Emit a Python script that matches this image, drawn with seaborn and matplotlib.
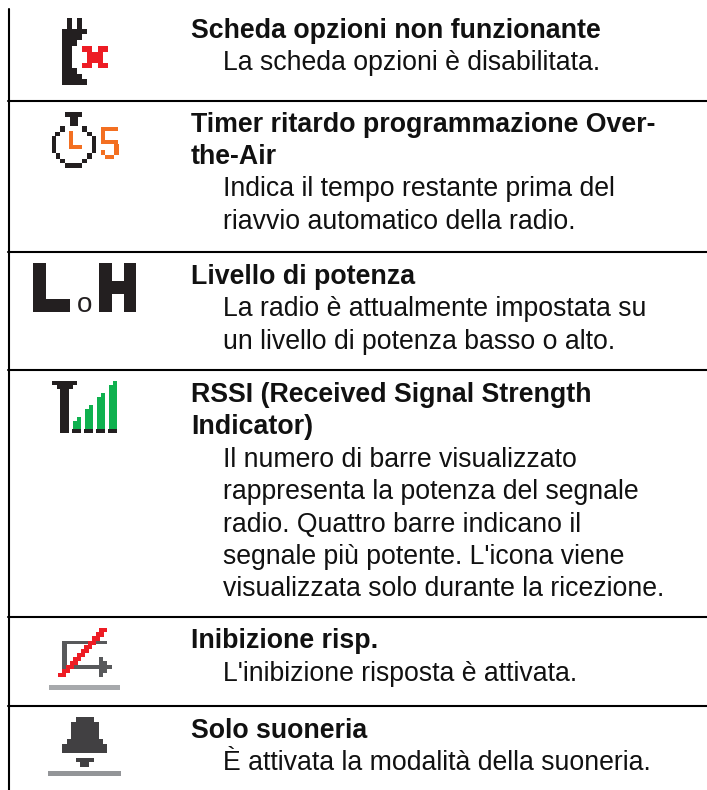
import seaborn as sns
import matplotlib.pyplot as plt
from matplotlib.patches import Rectangle

sns.set_theme(style="white")
plt.rcParams['font.family'] = ['Liberation Sans', 'DejaVu Sans']

# table text, one list per row: (title lines, description lines)
titles = [
    ["Scheda opzioni non funzionante"],
    ["Timer ritardo programmazione Over-", "the-Air"],
    ["Livello di potenza"],
    ["RSSI (Received Signal Strength", "Indicator)"],
    ["Inibizione risp."],
    ["Solo suoneria"],
]
descriptions = [
    ["La scheda opzioni è disabilitata."],
    ["Indica il tempo restante prima del", "riavvio automatico della radio."],
    ["La radio è attualmente impostata su", "un livello di potenza basso o alto."],
    ["Il numero di barre visualizzato", "rappresenta la potenza del segnale",
     "radio. Quattro barre indicano il", "segnale più potente. L'icona viene",
     "visualizzata solo durante la ricezione."],
    ["L'inibizione risposta è attivata."],
    ["È attivata la modalità della suoneria."],
]
row_baseline = [38, 131.7, 284, 402, 648.3, 737.7]
rule_y = [101, 252, 370, 617, 706]

fig = plt.figure(figsize=(7.07, 7.90), dpi=100)
ax = fig.add_axes([0, 0, 1, 1])
ax.set_xlim(0, 707)
ax.set_ylim(790, 0)
ax.axis("off")

# table rules
sns.lineplot(x=[9, 9], y=[9, 790], color="black", lw=1.5, ax=ax, errorbar=None, estimator=None)
for y in rule_y:
    sns.lineplot(x=[8, 707], y=[y, y], color="black", lw=1.5, ax=ax, errorbar=None, estimator=None)

# text
for top, t, d in zip(row_baseline, titles, descriptions):
    y = top
    for line in t:
        ax.text(191, y, line, fontsize=19.3, fontweight="bold", color="#111111", va="baseline")
        y += 32.4
    for line in d:
        ax.text(223, y, line, fontsize=19.15, color="#111111", va="baseline")
        y += 32.4


def blocks(rects, color, oy=0):
    # rects are x0, x1, y0, y1 measured on a 3x zoom of the page
    for x0, x1, y0, y1 in rects:
        ax.add_patch(Rectangle((x0 / 3, oy + y0 / 3), (x1 - x0) / 3, (y1 - y0) / 3,
                               fc=color, ec="none"))


DARK = "#231f20"
RED = "#ed1c24"
ORANGE = "#f36f21"
GREEN = "#0fb14f"

# option board icon
blocks([(200, 215, 55, 90), (230, 247, 55, 90), (185, 262, 88, 103), (185, 247, 103, 120),
        (185, 230, 120, 137), (185, 215, 137, 205), (185, 230, 205, 222), (185, 247, 222, 238),
        (185, 262, 238, 255)], DARK)
blocks([(246, 277, 138, 155), (293, 323, 138, 155), (262, 308, 155, 188),
        (246, 277, 188, 205), (293, 323, 188, 205)], RED)

# timer icon
blocks([(195, 247, 337, 350), (210, 233, 350, 378), (180, 195, 378, 395), (165, 180, 395, 408),
        (155, 168, 408, 460), (168, 180, 460, 478), (180, 195, 478, 490), (195, 247, 490, 503),
        (247, 262, 478, 490), (262, 275, 460, 478), (275, 287, 408, 460), (262, 275, 395, 408),
        (247, 262, 378, 395)], DARK)
blocks([(207, 220, 393, 447), (207, 247, 435, 447), (302, 355, 380, 393), (302, 315, 393, 420),
        (302, 355, 420, 432), (343, 357, 432, 465), (315, 343, 465, 477), (302, 315, 450, 465)], ORANGE)

# power level icon
blocks([(99, 137, 219, 366), (99, 210, 327, 366), (297, 335, 219, 366),
        (372, 409, 219, 366), (335, 372, 273, 311)], DARK, oy=190)
ax.text(84.5, 312, "o", fontsize=20, color=DARK, ha="center", va="baseline")

# rssi icon
blocks([(157, 230, 574, 586), (172, 218, 586, 598), (181, 206, 598, 730), (216, 243, 718, 728),
        (252, 279, 718, 728), (288, 315, 718, 728), (324, 351, 718, 728)], DARK, oy=190)
blocks([(218, 242, 692, 718), (230, 242, 682, 692), (254, 278, 658, 718), (266, 278, 646, 658),
        (290, 314, 622, 718), (302, 314, 610, 622), (326, 350, 586, 718), (338, 350, 574, 586)],
       GREEN, oy=190)

# inhibit reply icon
blocks([(186, 322, 122, 133), (186, 200, 122, 207), (200, 310, 196, 207), (298, 310, 172, 232),
        (310, 322, 184, 220), (322, 335, 196, 207)], "#58595b", oy=600)
for i in range(12):
    blocks([(175 + i * 11.2, 199 + i * 11.2, 219.7 - i * 12.25, 232 - i * 12.25)], RED, oy=600)
blocks([(147, 360, 255, 270)], "#a7a9ac", oy=600)

# ring only icon
blocks([(228, 282, 350, 365), (213, 296, 365, 418), (200, 308, 418, 432), (186, 322, 432, 459),
        (227, 282, 473, 487), (241, 268, 487, 500)], "#414042", oy=600)
blocks([(144, 363, 513, 527)], "#939598", oy=600)

fig.savefig("out.png", dpi=100)
